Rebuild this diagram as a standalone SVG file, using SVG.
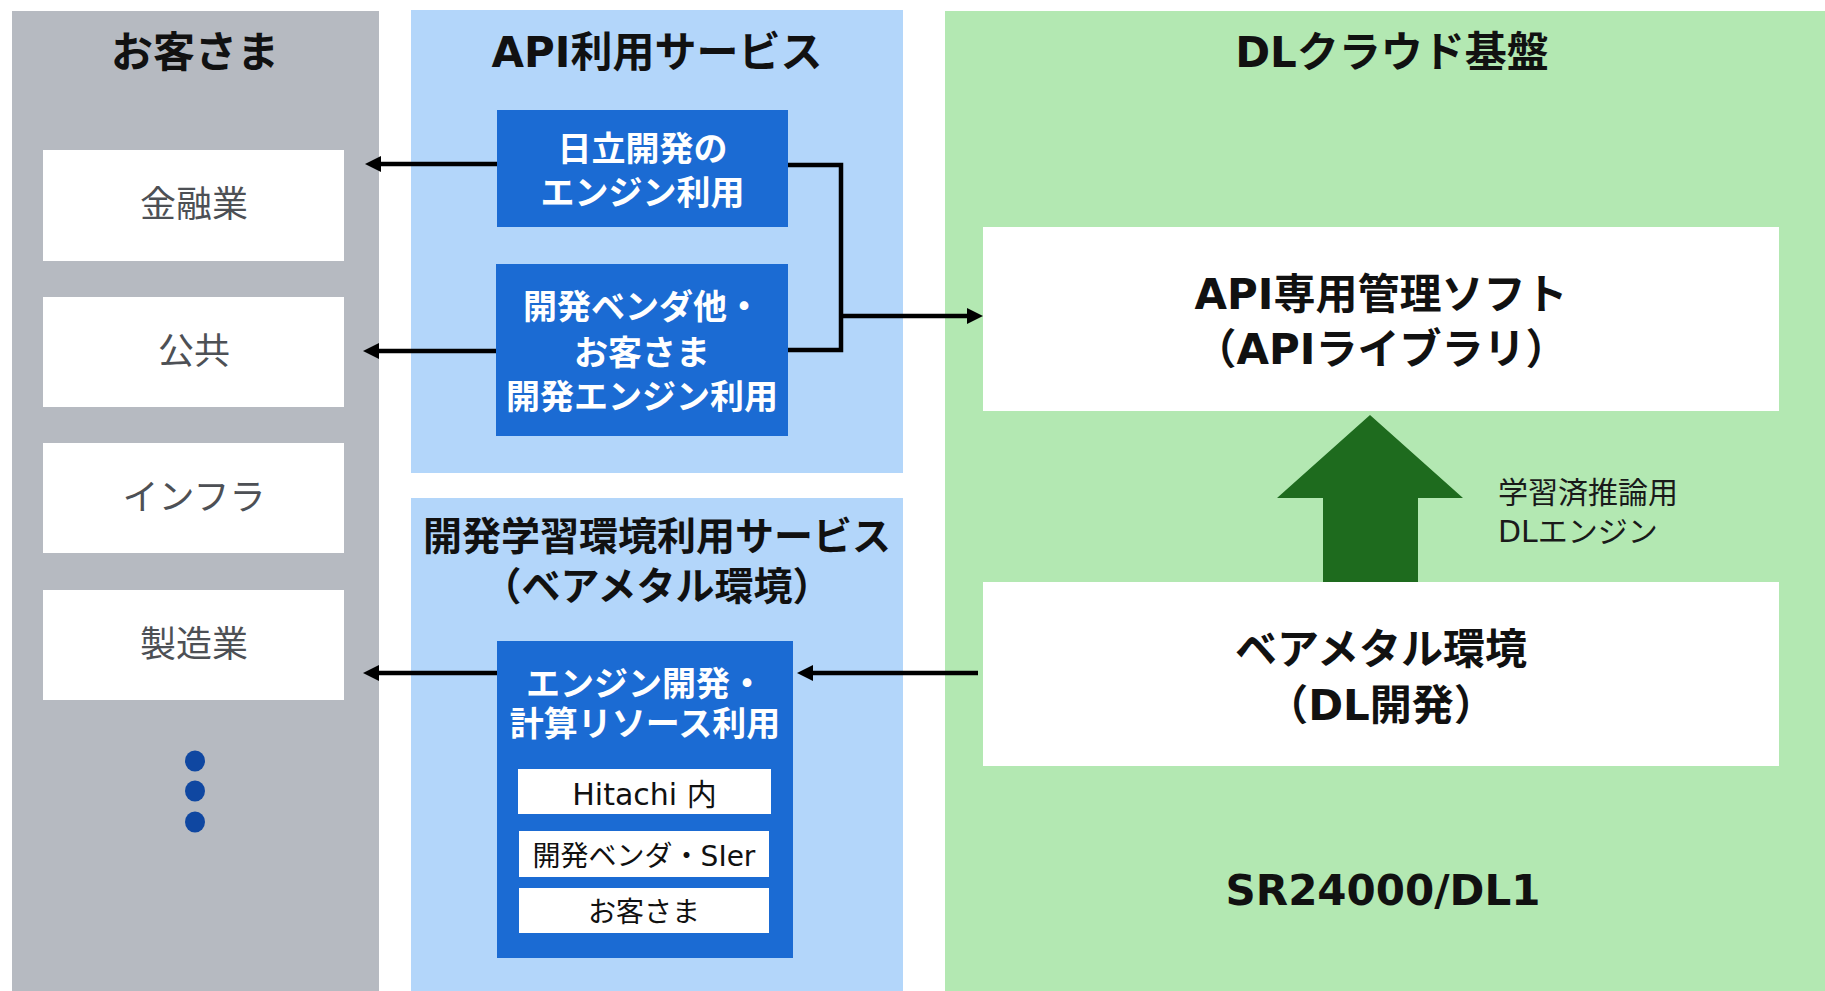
<svg xmlns="http://www.w3.org/2000/svg" width="1825" height="991" viewBox="0 0 1825 991">
<style>
text{font-family:"DejaVu Sans","Noto Sans CJK JP",sans-serif;text-anchor:middle}
.h{font-weight:bold;font-size:42px;fill:#111}
.cust{font-size:36px;fill:#4D5055}
.wb{font-weight:bold;font-size:34px;fill:#fff}
.bb{font-weight:bold;font-size:42px;fill:#111}
.sub{font-size:28px;fill:#111}
.lbl{font-size:30px;fill:#1a1a1a;text-anchor:start}
.blue{fill:#1B6BD3}
.white{fill:#fff}
.conn{stroke:#000;stroke-width:4.5;fill:none}
</style>
<defs>
<marker id="ah" markerUnits="userSpaceOnUse" markerWidth="16" markerHeight="16" refX="2" refY="8" orient="auto">
<path d="M0,0 L16,8 L0,16 z" fill="#000"/>
</marker>
</defs>
<rect width="1825" height="991" fill="#fff"/>
<g id="panel-customers">
<rect x="12" y="11" width="367" height="980" fill="#B6BAC1"/>
<text class="h" x="195" y="67">お客さま</text>
</g>
<g id="panel-api">
<rect x="411" y="10" width="492" height="463" fill="#B3D6FA"/>
<text class="h" x="657" y="67">API利用サービス</text>
</g>
<g id="panel-dev">
<rect x="411" y="498" width="492" height="493" fill="#B3D6FA"/>
<text class="h" style="font-size:39px" x="657" y="550">開発学習環境利用サービス</text>
<text class="h" style="font-size:39px" x="657" y="600">（ベアメタル環境）</text>
</g>
<g id="panel-dl">
<rect x="945" y="11" width="880" height="980" fill="#B3E8B2"/>
<text class="h" x="1392" y="67">DLクラウド基盤</text>
<text class="h" x="1383" y="905">SR24000/DL1</text>
</g>
<g id="cust-finance">
<rect class="white" x="43" y="150" width="301" height="111"/>
<text class="cust" x="194" y="217">金融業</text>
</g>
<g id="cust-public">
<rect class="white" x="43" y="297" width="301" height="110"/>
<text class="cust" x="194" y="364">公共</text>
</g>
<g id="cust-infra">
<rect class="white" x="43" y="443" width="301" height="110"/>
<text class="cust" x="194" y="510">インフラ</text>
</g>
<g id="cust-mfg">
<rect class="white" x="43" y="590" width="301" height="110"/>
<text class="cust" x="194" y="657">製造業</text>
</g>
<g id="cust-more" fill="#0F47A1">
<ellipse cx="195" cy="761" rx="10" ry="10.5"/>
<ellipse cx="195" cy="791" rx="10" ry="10.5"/>
<ellipse cx="195" cy="822" rx="10" ry="10.5"/>
</g>
<g id="svc-hitachi">
<rect class="blue" x="497" y="110" width="291" height="117"/>
<text class="wb" x="642.5" y="161">日立開発の</text>
<text class="wb" x="642.5" y="205">エンジン利用</text>
</g>
<g id="svc-vendor">
<rect class="blue" x="496" y="264" width="292" height="172"/>
<text class="wb" x="642" y="319">開発ベンダ他・</text>
<text class="wb" x="642" y="365">お客さま</text>
<text class="wb" x="642" y="409">開発エンジン利用</text>
</g>
<g id="svc-compute">
<rect class="blue" x="497" y="641" width="296" height="317"/>
<text class="wb" x="645" y="696">エンジン開発・</text>
<text class="wb" x="645" y="736">計算リソース利用</text>
<rect class="white" x="518" y="769" width="253" height="45"/>
<text class="sub" style="font-size:30px" x="644.5" y="805">Hitachi 内</text>
<rect class="white" x="519" y="831" width="250" height="46"/>
<text class="sub" x="644" y="866">開発ベンダ・SIer</text>
<rect class="white" x="519" y="888" width="250" height="45"/>
<text class="sub" x="644" y="922">お客さま</text>
</g>
<g id="api-soft">
<rect class="white" x="983" y="227" width="796" height="184"/>
<text class="bb" x="1381" y="309">API専用管理ソフト</text>
<text class="bb" x="1381" y="364">（APIライブラリ）</text>
</g>
<g id="baremetal">
<rect class="white" x="983" y="582" width="796" height="184"/>
<text class="bb" x="1381" y="664">ベアメタル環境</text>
<text class="bb" x="1381" y="720">（DL開発）</text>
</g>
<g id="connectors">
<line class="conn" x1="497" y1="164" x2="379" y2="164" marker-end="url(#ah)"/>
<line class="conn" x1="496" y1="351" x2="377" y2="351" marker-end="url(#ah)"/>
<line class="conn" x1="497" y1="673" x2="377" y2="673" marker-end="url(#ah)"/>
<line class="conn" x1="978" y1="673" x2="811" y2="673" marker-end="url(#ah)"/>
<path class="conn" d="M788,165 H841 V350 H788"/>
<line class="conn" x1="841" y1="316" x2="969" y2="316" marker-end="url(#ah)"/>
<polygon points="1370,415 1463,498 1418,498 1418,582 1323,582 1323,498 1277,498" fill="#1E6B1E"/>
<text class="lbl" x="1498" y="503">学習済推論用</text>
<text class="lbl" x="1498" y="542">DLエンジン</text>
</g>
</svg>
